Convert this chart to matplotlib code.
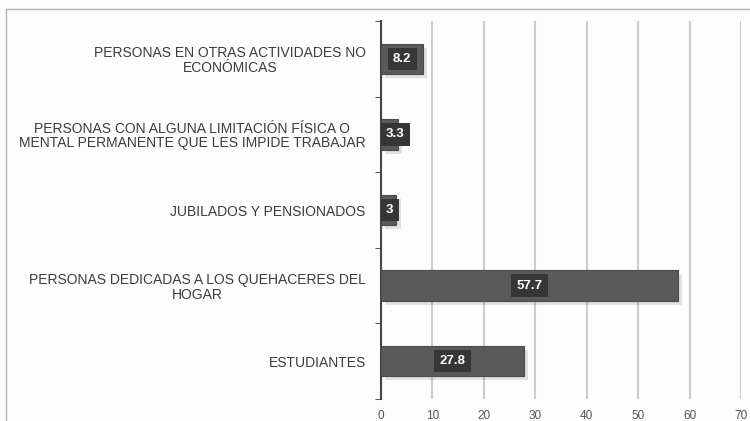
import numpy as np
import matplotlib
matplotlib.use('Agg')
import matplotlib.pyplot as plt
import matplotlib.patheffects as pe
from matplotlib.patches import Rectangle

categorias = ['PERSONAS EN OTRAS ACTIVIDADES NO\nECONÓMICAS',
              'PERSONAS CON ALGUNA LIMITACIÓN FÍSICA O\nMENTAL PERMANENTE QUE LES IMPIDE TRABAJAR',
              'JUBILADOS Y PENSIONADOS',
              'PERSONAS DEDICADAS A LOS QUEHACERES DEL\nHOGAR',
              'ESTUDIANTES']
valores = [8.2, 3.3, 3, 57.7, 27.8]
etiquetas = ['8.2', '3.3', '3', '57.7', '27.8']
xticks = [0, 10, 20, 30, 40, 50, 60, 70]

plt.rcParams['font.family'] = ['Liberation Sans', 'DejaVu Sans']

fig = plt.figure(figsize=(7.5, 4.21), dpi=100)
fig.patch.set_facecolor('#fdfdfd')
# marco exterior
fig.patches.append(Rectangle((6/750, -0.1), 1.2, 1 - 9/421 + 0.1, transform=fig.transFigure,
                             fill=False, edgecolor='#b4b4b4', lw=1))

ax = fig.add_axes([381/750, 22/421, 360/750, 378/421])
ax.set_facecolor('#fdfdfd')

y = np.arange(len(categorias))
bars = ax.barh(y, valores, height=0.4, color='#5a5a5a', edgecolor='#4a4a4a', lw=0.8, zorder=3)
for b in bars:
    b.set_path_effects([pe.SimplePatchShadow(offset=(3, -3), alpha=0.12), pe.Normal()])

for i, (v, t) in enumerate(zip(valores, etiquetas)):
    if v < 5:
        ax.text(1.0, i, t, ha='left', va='center', color='white', fontsize=9.5, fontweight='bold', zorder=5,
                bbox=dict(boxstyle='square,pad=0.4', fc='#363636', ec='none'))
    else:
        ax.text(v / 2, i, t, ha='center', va='center', color='white', fontsize=9.5, fontweight='bold', zorder=5,
                bbox=dict(boxstyle='square,pad=0.4', fc='#363636', ec='none'))

ax.set_xlim(0, 70)
ax.set_ylim(len(categorias) - 0.5, -0.5)
ax.set_xticks(xticks)
ax.set_xticklabels([str(x) for x in xticks], fontsize=8.5, color='#555555')
ax.tick_params(axis='x', length=0, pad=8)
ax.grid(axis='x', color='#cccccc', lw=1.5, zorder=0)

ax.set_yticks(y)
ax.set_yticklabels(categorias, fontsize=10, color='#3c3c3c', multialignment='center', linespacing=1.05)
ax.tick_params(axis='y', length=0, pad=11)
ax.set_yticks(np.arange(len(categorias) + 1) - 0.5, minor=True)
ax.tick_params(axis='y', which='minor', length=4, color='#333333')

for s in ['top', 'right', 'bottom']:
    ax.spines[s].set_visible(False)
ax.spines['left'].set_color('#444444')
ax.spines['left'].set_linewidth(1.5)

fig.savefig('out.png', dpi=100, facecolor=fig.get_facecolor())
